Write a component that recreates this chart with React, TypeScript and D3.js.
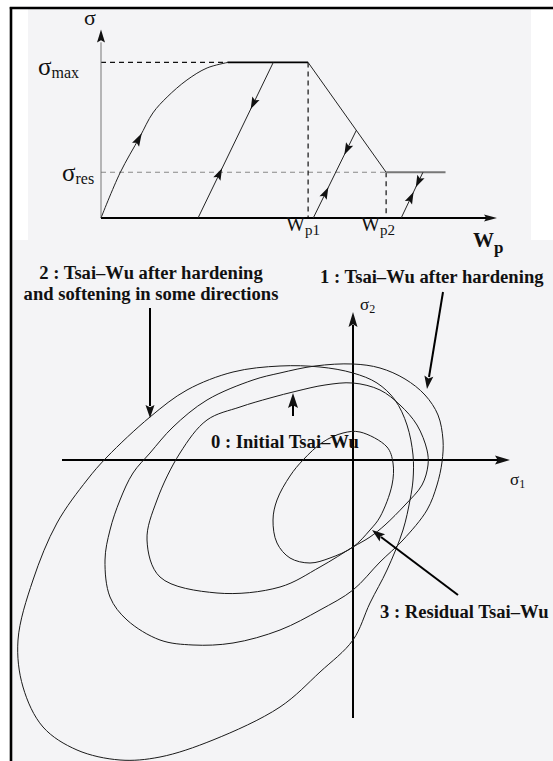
import React from 'react';
import * as d3 from 'd3';

// ---- Upper panel: stress σ versus plastic work Wp (both in % of axis length)
const SIGMA_MAX = 85;
const SIGMA_RES = 25;
const WP1 = 52.3;
const WP2 = 72;
const WP_END = 87;

// hardening branch up to σmax
const hardening: [number, number][] = [
  [0, 0], [4.8, 24.6], [9.8, 44.3], [13.1, 57.4], [16.7, 66.1],
  [21.7, 75.4], [26.8, 82], [32, 85],
];

// elastic unloading / reloading paths [start on envelope, end on Wp axis]
const unloadStart: [number, number][] = [[43.5, 85], [64.5, 48], [81.3, 25]];
const unloadEnd: [number, number][] = [[24.5, 0], [53.6, 0], [75.8, 0]];

// ---- Lower panel: Tsai-Wu failure surfaces in the (σ1, σ2) plane
const surfaceInitial: [number, number][] = [
  [0, 15.4], [5.4, 14], [9.4, 11], [12.8, 7], [14.8, 2], [15, -1], [13.8, -5],
  [10.4, -9], [6.4, -13], [3.4, -15.4], [0, -17.4], [-6.6, -21.4], [-14.6, -25.4],
  [-27.2, -26.6], [-38.6, -23.4], [-41.2, -16], [-39.2, -8], [-34.6, 1.4],
  [-29.2, 8], [-22.6, 10.6], [-16.6, 12.4], [-11.2, 13.8], [-5.6, 15],
];
const surfaceHardened: [number, number][] = [
  [0, 19.2], [5.4, 18.4], [10.4, 16.2], [14.4, 13], [17, 9], [18, 4], [17.8, -0.4],
  [16.8, -5], [14.8, -10], [10, -16], [5.4, -20.4], [0, -26], [-6.6, -30],
  [-14.6, -34], [-24, -36.6], [-32, -37], [-38.6, -36], [-45.2, -32], [-48.6, -27.4],
  [-49.6, -20], [-48.6, -14], [-46.6, -8], [-44, -2.6], [-40.6, 1.4], [-36, 6.6],
  [-29.2, 12], [-20, 16], [-14.6, 17.4], [-7.6, 18.8],
];
const surfaceSoftened: [number, number][] = [
  [0, 17.4], [4.8, 15.4], [8.4, 12], [10.8, 7], [12, 1], [12, -4], [11.4, -8],
  [10, -14], [6.8, -22], [3.4, -28.6], [0, -36], [-6.6, -42.4], [-14.6, -49.4],
  [-28, -56], [-38.6, -59.4], [-46.6, -60], [-55.2, -58], [-62, -53.4],
  [-66, -45.4], [-67, -36], [-64, -24], [-59.2, -12.6], [-53.2, -4], [-49.2, 0.6],
  [-40.6, 8.6], [-33.2, 14], [-24, 17.6], [-14.6, 18.8], [-6.6, 18.6],
];
const surfaceResidual: [number, number][] = [
  [1.4, 5.6], [6.8, 2.6], [8, -0.6], [7.8, -5], [5.4, -11.4], [3.4, -14],
  [0, -17.4], [-4.6, -19.6], [-8.6, -20.6], [-12.6, -19.6], [-15.2, -16.6],
  [-16, -12], [-15.2, -8], [-12.6, -3.2], [-10, 0], [-6, 3.6], [-2, 5.4],
];

const surfaces = [surfaceInitial, surfaceHardened, surfaceSoftened, surfaceResidual];

const labelHardened = ['1 : Tsai\u2013Wu after hardening'];
const labelSoftened = ['2 : Tsai\u2013Wu after hardening', 'and softening in some directions'];
const labelInitial = '0 : Initial Tsai\u2013Wu';
const labelResidual = '3 : Residual Tsai\u2013Wu';

const W = 553;
const H = 761;
const FONT = '"Liberation Serif", "Times New Roman", serif';
const INK = '#111';

// scales
const xT = d3.scaleLinear().domain([0, 100]).range([101, 497]);
const yT = d3.scaleLinear().domain([0, 100]).range([218, 35]);
const xB = d3.scaleLinear().domain([-70, 40]).range([3, 553]);
const yB = d3.scaleLinear().domain([-70, 40]).range([810, 260]);

type P = [number, number];

// filled triangular arrowhead with its tip at (tx, ty) pointing along (dx, dy)
function head(tx: number, ty: number, dx: number, dy: number, len: number, hw: number, key?: string) {
  const n = Math.hypot(dx, dy);
  const ux = dx / n, uy = dy / n;
  const bx = tx - ux * len, by = ty - uy * len;
  const pts = [
    [tx, ty],
    [bx - uy * hw, by + ux * hw],
    [bx + ux * len * 0.18, by + uy * len * 0.18],
    [bx + uy * hw, by - ux * hw],
  ];
  return <polygon key={key} points={pts.map((p) => p.join(',')).join(' ')} fill={INK} />;
}

// arrowhead placed on a pixel segment a->b at fraction t, pointing toward b
function headOnSeg(a: P, b: P, t: number, key: string, len = 12, hw = 4) {
  const tx = a[0] + (b[0] - a[0]) * t;
  const ty = a[1] + (b[1] - a[1]) * t;
  return head(tx, ty, b[0] - a[0], b[1] - a[1], len, hw, key);
}

export default function App() {
  const pt = (p: P): P => [xT(p[0]), yT(p[1])];
  const hardPath = d3.line<P>().x((d) => xT(d[0])).y((d) => yT(d[1])).curve(d3.curveCatmullRom.alpha(0.5))(hardening) || '';
  const surfLine = d3.line<P>().x((d) => xB(d[0])).y((d) => yB(d[1])).curve(d3.curveCatmullRomClosed.alpha(0.5));

  // arrow positions along unloading paths (fraction from envelope to axis)
  const downT = [0.3, 0.28, 0.33];
  const upT = [0.68, 0.65, 0.43];

  const ox = xB(0), oy = yB(0);
  const last = hardening[hardening.length - 1];

  return (
    <svg width={W} height={H} style={{ position: 'absolute', left: 0, top: 0, display: 'block' }}
      fontFamily={FONT}>
      <rect x={0} y={0} width={W} height={H} fill="#ffffff" />
      <rect x={12} y={9} width={W - 12} height={H - 9} fill="#f4f4f6" />
      <rect x={12} y={9} width={16} height={231} fill="#ffffff" />
      <rect x={531} y={9} width={22} height={231} fill="#ffffff" />
      <line x1={9.8} y1={8} x2={W} y2={8} stroke="#000" strokeWidth={2.6} />
      <line x1={11} y1={7} x2={11} y2={H} stroke="#000" strokeWidth={2.6} />

      {/* ---------- upper panel ---------- */}
      {/* reference levels */}
      <line x1={xT(0)} x2={xT(last[0])} y1={yT(SIGMA_MAX)} y2={yT(SIGMA_MAX)} stroke="#111" strokeWidth={1.2} strokeDasharray="5,4" />
      <line x1={xT(0)} x2={xT(WP2)} y1={yT(SIGMA_RES)} y2={yT(SIGMA_RES)} stroke="#888" strokeWidth={1.2} strokeDasharray="5,4" />
      <line x1={xT(WP1)} x2={xT(WP1)} y1={yT(SIGMA_MAX)} y2={yT(0)} stroke="#111" strokeWidth={1.2} strokeDasharray="5,4" />
      <line x1={xT(WP2)} x2={xT(WP2)} y1={yT(SIGMA_RES)} y2={yT(0)} stroke="#111" strokeWidth={1.2} strokeDasharray="5,4" />

      {/* axes */}
      <line x1={xT(0)} x2={xT(0)} y1={yT(0)} y2={yT(96)} stroke="#777" strokeWidth={1} />
      {head(xT(0), yT(103), 0, -1, 13, 4)}
      <line x1={xT(0)} x2={xT(98)} y1={yT(0)} y2={yT(0)} stroke="#000" strokeWidth={2} />
      {head(xT(100), yT(0), 1, 0, 13, 3.5)}

      {/* hardening, plateau, softening, residual */}
      <path d={hardPath} fill="none" stroke="#222" strokeWidth={1} />
      <line x1={xT(last[0])} x2={xT(WP1)} y1={yT(SIGMA_MAX)} y2={yT(SIGMA_MAX)} stroke="#000" strokeWidth={1.8} />
      <line x1={xT(WP1)} x2={xT(WP2)} y1={yT(SIGMA_MAX)} y2={yT(SIGMA_RES)} stroke="#222" strokeWidth={1} />
      <line x1={xT(WP2)} x2={xT(WP_END)} y1={yT(SIGMA_RES)} y2={yT(SIGMA_RES)} stroke="#777" strokeWidth={1.8} />
      {headOnSeg(pt(hardening[2]), pt(hardening[3]), 0.15, 'h1', 13, 4)}

      {unloadStart.map((s, i) => {
        const a = pt(s);
        const b = pt(unloadEnd[i]);
        return (
          <g key={`u${i}`}>
            <line x1={a[0]} y1={a[1]} x2={b[0]} y2={b[1]} stroke="#222" strokeWidth={1} />
            {headOnSeg(a, b, downT[i], `d${i}`, 12, 4)}
            {headOnSeg(b, a, 1 - upT[i], `up${i}`, 12, 4)}
          </g>
        );
      })}

      {/* upper panel labels */}
      <text x={90} y={25} fontSize={22} textAnchor="middle" fill={INK}>σ</text>
      <text x={38} y={75} fontSize={25} fill={INK}>σ<tspan fontSize={16} dy={3}>max</tspan></text>
      <text x={62} y={181} fontSize={25} fill={INK}>σ<tspan fontSize={16} dy={3}>res</tspan></text>
      <text x={xT(WP1) - 22} y={231} fontSize={20} fill={INK}>W<tspan fontSize={15} dy={4}>p1</tspan></text>
      <text x={xT(WP2) - 25} y={231} fontSize={20} fill={INK}>W<tspan fontSize={15} dy={4}>p2</tspan></text>
      <text x={473} y={247} fontSize={21} fontWeight="bold" fill={INK}>W<tspan fontSize={17} dy={6}>p</tspan></text>

      {/* ---------- lower panel ---------- */}
      <line x1={xB(-58.2)} x2={xB(29)} y1={oy} y2={oy} stroke="#000" strokeWidth={2} />
      {head(xB(31.4), oy, 1, 0, 15, 4.5)}
      <line x1={ox} x2={ox} y1={yB(-51.6)} y2={yB(27)} stroke="#000" strokeWidth={2} />
      {head(ox, yB(29.6), 0, -1, 15, 4.5)}
      <text x={510} y={485} fontSize={17} fill={INK}>σ<tspan fontSize={12} dy={3}>1</tspan></text>
      <text x={360} y={310} fontSize={17} fill={INK}>σ<tspan fontSize={12} dy={3}>2</tspan></text>

      {surfaces.map((s, i) => (
        <path key={`s${i}`} d={surfLine(s) || ''} fill="none" stroke="#1a1a1a" strokeWidth={1} />
      ))}

      {/* annotations */}
      <g fontWeight="bold" fontSize={18.6} fill={INK}>
        <text x={320} y={283}>{labelHardened[0]}</text>
        <text x={151} y={279} textAnchor="middle">{labelSoftened[0]}</text>
        <text x={151} y={300} textAnchor="middle">{labelSoftened[1]}</text>
        <text x={211} y={448}>{labelInitial}</text>
        <text x={380} y={618}>{labelResidual}</text>
      </g>
      <line x1={443} y1={292} x2={429} y2={377} stroke="#000" strokeWidth={2} />
      {head(427, 389, -14, 97, 13, 4.5)}
      <line x1={150} y1={308} x2={150} y2={406} stroke="#000" strokeWidth={2} />
      {head(150, 418, 0, 1, 13, 4.5)}
      <line x1={293} y1={416} x2={293} y2={404} stroke="#000" strokeWidth={2} />
      {head(293, 393, 0, -1, 15, 5)}
      <line x1={458} y1={595} x2={381} y2={537} stroke="#000" strokeWidth={2} />
      {head(372, 530, -86, -65, 13, 4.5)}
    </svg>
  );
}
